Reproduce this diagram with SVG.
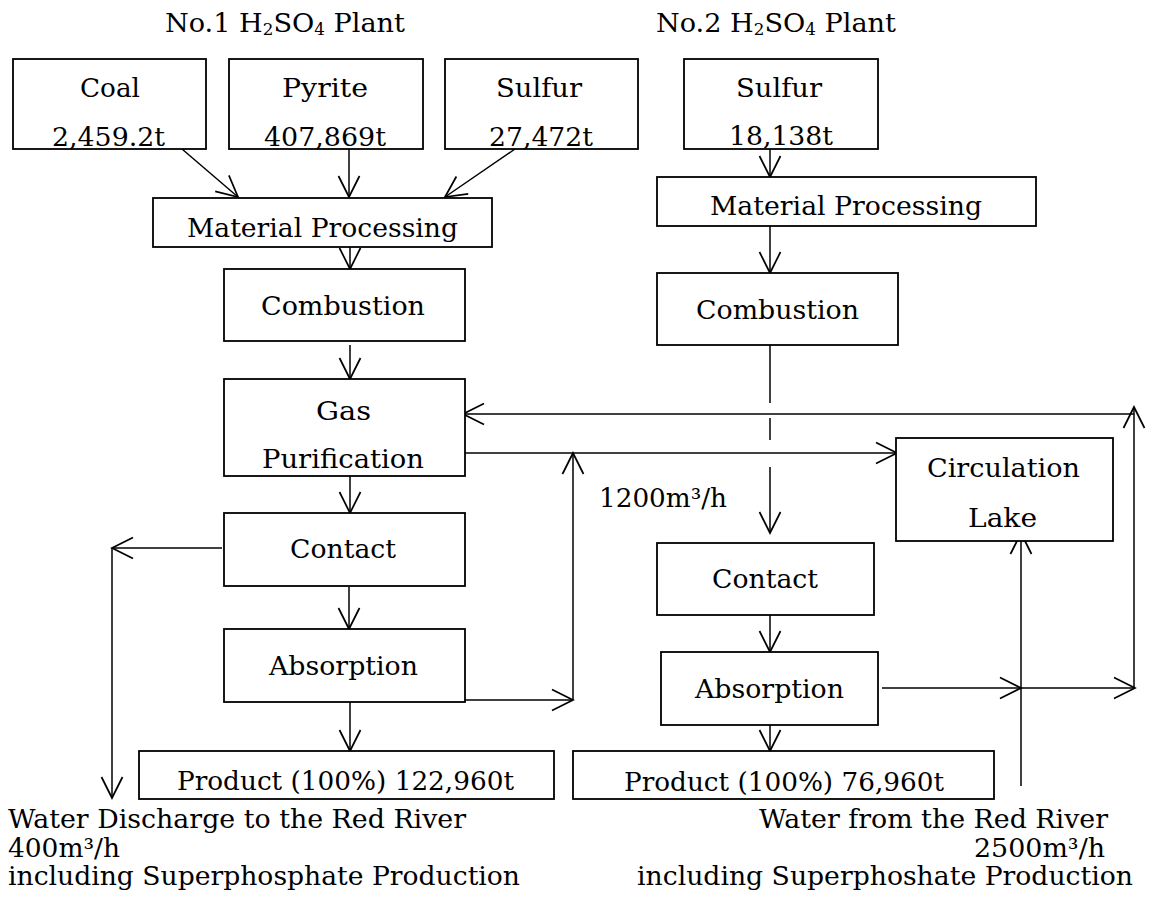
<svg xmlns="http://www.w3.org/2000/svg" width="1152" height="898" viewBox="0 0 1152 898">
  <style>
    .box { fill: #ffffff; stroke: #000000; stroke-width: 1.8; }
    .lbl { font-family: "DejaVu Serif", "Liberation Serif", serif; font-size: 26px; fill: #000000; }
    .sub { font-size: 16px; }
    .ln { fill: none; stroke: #000000; stroke-width: 1.5; }
    .arr { marker-end: url(#head); }
  </style>
  <defs>
    <marker id="head" viewBox="-24 -13 26 26" refX="0" refY="0" markerWidth="26" markerHeight="26" markerUnits="userSpaceOnUse" orient="auto" overflow="visible">
      <path d="M-21,-10.5 L0,0 L-21,10.5" fill="none" stroke="#000000" stroke-width="1.7"/>
    </marker>
  </defs>
  <rect width="1152" height="898" fill="#ffffff"/>

  <!-- plant headings -->
  <g id="title-plant1">
    <text class="lbl" x="165" y="32" textLength="240" lengthAdjust="spacingAndGlyphs">No.1 H<tspan class="sub" dy="3">2</tspan><tspan dy="-3">SO</tspan><tspan class="sub" dy="3">4</tspan><tspan dy="-3"> Plant</tspan></text>
  </g>
  <g id="title-plant2">
    <text class="lbl" x="656" y="32" textLength="240" lengthAdjust="spacingAndGlyphs">No.2 H<tspan class="sub" dy="3">2</tspan><tspan dy="-3">SO</tspan><tspan class="sub" dy="3">4</tspan><tspan dy="-3"> Plant</tspan></text>
  </g>

  <!-- connectors -->
  <g id="connectors">
    <!-- raw materials into plant 1 processing -->
    <path class="ln arr" d="M182,149 L238,197"/>
    <path class="ln arr" d="M349,149 L349,197"/>
    <path class="ln arr" d="M515,149 L445,197"/>
    <!-- plant 1 main line -->
    <path class="ln arr" d="M350,247 L350,269"/>
    <path class="ln arr" d="M350,345 L350,379"/>
    <path class="ln arr" d="M350,476 L350,513"/>
    <path class="ln arr" d="M349,587 L349,629"/>
    <path class="ln arr" d="M350,702 L350,751"/>
    <!-- plant 2 main line -->
    <path class="ln arr" d="M770,149 L770,177"/>
    <path class="ln arr" d="M770,226 L770,273"/>
    <path class="ln" d="M770,345 L770,403"/>
    <path class="ln" d="M770,418 L770,440"/>
    <path class="ln arr" d="M770,467 L770,533"/>
    <path class="ln arr" d="M770,615 L770,652"/>
    <path class="ln arr" d="M770,725 L770,751"/>
    <!-- discharge to river -->
    <path class="ln arr" d="M222,548 L112,548"/>
    <path class="ln arr" d="M112,548 L112,798"/>
    <!-- absorption 1 water to gas purification outlet -->
    <path class="ln arr" d="M462,700 L573,700"/>
    <path class="ln arr" d="M573,700 L573,453"/>
    <!-- gas purification to circulation lake -->
    <path class="ln arr" d="M465,453 L897,453"/>
    <!-- return water loop -->
    <path class="ln arr" d="M1134,688 L1134,407"/>
    <path class="ln arr" d="M1134,414 L463,414"/>
    <!-- absorption 2 outlet -->
    <path class="ln arr" d="M882,688 L1021,688"/>
    <path class="ln arr" d="M1021,688 L1135,688"/>
    <!-- river water into lake -->
    <path class="ln arr" d="M1021,786 L1021,533"/>
  </g>

  <!-- plant 1 nodes -->
  <g id="coal">
    <rect class="box" x="13" y="59" width="193" height="90"/>
    <text class="lbl" x="80" y="97" textLength="60" lengthAdjust="spacingAndGlyphs">Coal</text>
    <text class="lbl" x="52" y="146" textLength="113" lengthAdjust="spacingAndGlyphs">2,459.2t</text>
  </g>
  <g id="pyrite">
    <rect class="box" x="229" y="59" width="194" height="90"/>
    <text class="lbl" x="282" y="97" textLength="86" lengthAdjust="spacingAndGlyphs">Pyrite</text>
    <text class="lbl" x="264" y="146" textLength="122" lengthAdjust="spacingAndGlyphs">407,869t</text>
  </g>
  <g id="sulfur1">
    <rect class="box" x="445" y="59" width="193" height="90"/>
    <text class="lbl" x="496" y="97" textLength="86" lengthAdjust="spacingAndGlyphs">Sulfur</text>
    <text class="lbl" x="489" y="146" textLength="104" lengthAdjust="spacingAndGlyphs">27,472t</text>
  </g>
  <g id="processing1">
    <rect class="box" x="153" y="198" width="339" height="49"/>
    <text class="lbl" x="187" y="237" textLength="271" lengthAdjust="spacingAndGlyphs">Material Processing</text>
  </g>
  <g id="combustion1">
    <rect class="box" x="224" y="269" width="241" height="72"/>
    <text class="lbl" x="261" y="315" textLength="164" lengthAdjust="spacingAndGlyphs">Combustion</text>
  </g>
  <g id="gas-purification">
    <rect class="box" x="224" y="379" width="241" height="97"/>
    <text class="lbl" x="316" y="420" textLength="55" lengthAdjust="spacingAndGlyphs">Gas</text>
    <text class="lbl" x="262" y="468" textLength="162" lengthAdjust="spacingAndGlyphs">Purification</text>
  </g>
  <g id="contact1">
    <rect class="box" x="224" y="513" width="241" height="73"/>
    <text class="lbl" x="290" y="558" textLength="106" lengthAdjust="spacingAndGlyphs">Contact</text>
  </g>
  <g id="absorption1">
    <rect class="box" x="224" y="629" width="241" height="73"/>
    <text class="lbl" x="269" y="675" textLength="149" lengthAdjust="spacingAndGlyphs">Absorption</text>
  </g>
  <g id="product1">
    <rect class="box" x="139" y="751" width="415" height="48"/>
    <text class="lbl" x="177" y="790" textLength="337" lengthAdjust="spacingAndGlyphs">Product (100%) 122,960t</text>
  </g>

  <!-- plant 2 nodes -->
  <g id="sulfur2">
    <rect class="box" x="684" y="59" width="194" height="90"/>
    <text class="lbl" x="736" y="97" textLength="86" lengthAdjust="spacingAndGlyphs">Sulfur</text>
    <text class="lbl" x="729" y="145" textLength="104" lengthAdjust="spacingAndGlyphs">18,138t</text>
  </g>
  <g id="processing2">
    <rect class="box" x="657" y="177" width="379" height="49"/>
    <text class="lbl" x="710" y="215" textLength="272" lengthAdjust="spacingAndGlyphs">Material Processing</text>
  </g>
  <g id="combustion2">
    <rect class="box" x="657" y="273" width="241" height="72"/>
    <text class="lbl" x="696" y="319" textLength="163" lengthAdjust="spacingAndGlyphs">Combustion</text>
  </g>
  <g id="contact2">
    <rect class="box" x="657" y="543" width="217" height="72"/>
    <text class="lbl" x="712" y="588" textLength="106" lengthAdjust="spacingAndGlyphs">Contact</text>
  </g>
  <g id="absorption2">
    <rect class="box" x="661" y="652" width="217" height="73"/>
    <text class="lbl" x="695" y="698" textLength="149" lengthAdjust="spacingAndGlyphs">Absorption</text>
  </g>
  <g id="product2">
    <rect class="box" x="573" y="751" width="421" height="48"/>
    <text class="lbl" x="624" y="791" textLength="320" lengthAdjust="spacingAndGlyphs">Product (100%) 76,960t</text>
  </g>

  <!-- shared water system -->
  <g id="circulation-lake">
    <rect class="box" x="896" y="438" width="217" height="103"/>
    <text class="lbl" x="927" y="477" textLength="153" lengthAdjust="spacingAndGlyphs">Circulation</text>
    <text class="lbl" x="968" y="527" textLength="69" lengthAdjust="spacingAndGlyphs">Lake</text>
  </g>
  <g id="flow-1200">
    <text class="lbl" x="599" y="507" textLength="128" lengthAdjust="spacingAndGlyphs">1200m³/h</text>
  </g>
  <g id="river-discharge">
    <text class="lbl" x="8" y="828" textLength="458" lengthAdjust="spacingAndGlyphs">Water Discharge to the Red River</text>
    <text class="lbl" x="8" y="857" textLength="112" lengthAdjust="spacingAndGlyphs">400m³/h</text>
    <text class="lbl" x="8" y="885" textLength="512" lengthAdjust="spacingAndGlyphs">including Superphosphate Production</text>
  </g>
  <g id="river-intake">
    <text class="lbl" x="759" y="828" textLength="349" lengthAdjust="spacingAndGlyphs">Water from the Red River</text>
    <text class="lbl" x="974" y="857" textLength="131" lengthAdjust="spacingAndGlyphs">2500m³/h</text>
    <text class="lbl" x="637" y="885" textLength="496" lengthAdjust="spacingAndGlyphs">including Superphoshate Production</text>
  </g>
</svg>
